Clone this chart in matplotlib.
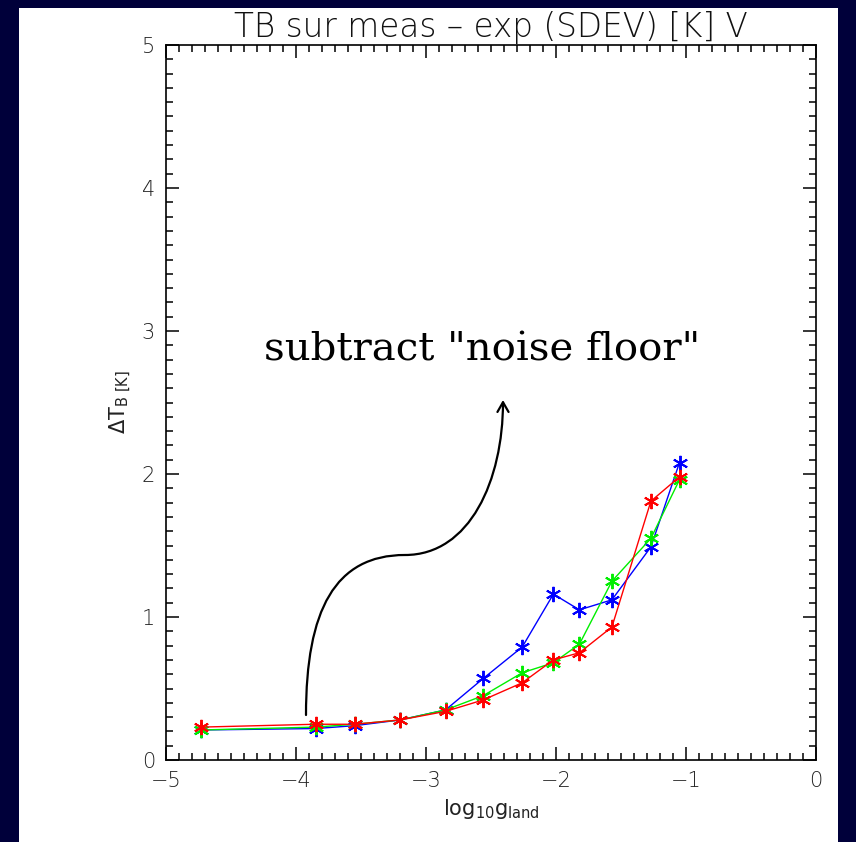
import matplotlib
matplotlib.use("Agg")
import matplotlib.pyplot as plt
from matplotlib.patches import Rectangle, FancyArrowPatch
from matplotlib.path import Path
from matplotlib.ticker import MultipleLocator

# ---- data ----
log_g = [-4.73, -3.85, -3.55, -3.20, -2.85, -2.56, -2.26, -2.02, -1.82, -1.57, -1.27, -1.05]
blue_vals = [0.21, 0.22, 0.24, 0.28, 0.35, 0.57, 0.79, 1.16, 1.05, 1.12, 1.49, 2.08]
green_vals = [0.21, 0.23, 0.25, 0.28, 0.35, 0.45, 0.61, 0.68, 0.81, 1.25, 1.55, 1.96]
red_vals = [0.23, 0.25, 0.25, 0.28, 0.34, 0.42, 0.54, 0.70, 0.75, 0.93, 1.81, 1.98]
series = [("blue", blue_vals, "#0000ff"), ("green", green_vals, "#00ee00"), ("red", red_vals, "#ff0000")]

x_ticks = [-5, -4, -3, -2, -1, 0]
x_ticklabels = ["\u22125", "\u22124", "\u22123", "\u22122", "\u22121", "0"]
y_ticks = [0, 1, 2, 3, 4, 5]
y_ticklabels = ["0", "1", "2", "3", "4", "5"]

title = "TB sur meas \u2013 exp (SDEV) [K] V"
note = 'subtract "noise floor"'

W, H = 856, 842
fig = plt.figure(figsize=(W / 100, H / 100), dpi=100)
fig.patch.set_facecolor("#00003a")
fig.add_artist(Rectangle((19 / W, 0), (838 - 19) / W, (H - 8) / H,
                         transform=fig.transFigure, facecolor="white", edgecolor="none", zorder=0))

ax = fig.add_axes([166 / W, 1 - 760 / H, (816 - 166) / W, (760 - 45) / H])
ax.set_facecolor("white")

star = (6, 2, 0)
for name, vals, col in series:
    ax.plot(log_g, vals, color=col, lw=1.0, marker=star, markersize=11,
            markeredgewidth=1.4, markeredgecolor=col, markerfacecolor=col)

ax.set_xlim(-5, 0)
ax.set_ylim(0, 5)
ax.xaxis.set_minor_locator(MultipleLocator(0.1))
ax.yaxis.set_minor_locator(MultipleLocator(0.1))
ax.tick_params(which="both", direction="in", top=True, right=True, color="black")
ax.tick_params(which="major", length=9.5, width=1.1, labelsize=15, pad=8)
ax.tick_params(which="minor", length=5, width=1.1)
for s in ax.spines.values():
    s.set_linewidth(1.2)

ax.set_xticks(x_ticks)
ax.set_xticklabels(x_ticklabels, color="#222222")
ax.set_yticks(y_ticks)
ax.set_yticklabels(y_ticklabels, color="#222222")
for lab in ax.get_xticklabels() + ax.get_yticklabels():
    lab.set_fontweight("light")

ax.set_title(title, fontsize=23.5, fontweight="light", pad=6, color="#111111")
ax.set_xlabel(r"log$_{10}$g$_{\rm land}$", fontsize=15, labelpad=4, color="#222222")
ax.set_ylabel(r"$\Delta$T$_{\rm B\ [K]}$", fontsize=15, labelpad=6, color="#222222")

# annotation text
fig.text(482 / W, 1 - 350 / H, note, fontsize=29, family="DejaVu Serif",
         ha="center", va="center", color="black")

# curved arrow (data coordinates)
def px2d(px, py):
    return (-5 + (px - 166) / 130.0, (760 - py) / 143.0)

verts = [px2d(306, 715), px2d(306, 610), px2d(335, 555), px2d(405, 555),
         px2d(470, 555), px2d(503, 480), px2d(503, 400)]
codes = [Path.MOVETO, Path.CURVE4, Path.CURVE4, Path.CURVE4, Path.CURVE4, Path.CURVE4, Path.CURVE4]
arrow = FancyArrowPatch(path=Path(verts, codes), arrowstyle="->,head_length=7,head_width=4",
                        color="black", lw=1.6, transform=ax.transData, zorder=5)
ax.add_patch(arrow)

fig.savefig("out.png", dpi=100, facecolor=fig.get_facecolor())
